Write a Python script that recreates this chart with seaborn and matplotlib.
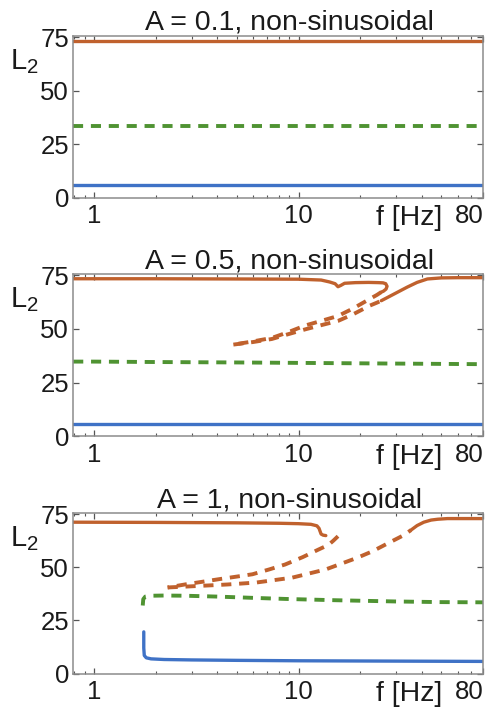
import matplotlib
matplotlib.use("Agg")
import matplotlib.pyplot as plt
import seaborn as sns
import pandas as pd
from matplotlib.ticker import FixedLocator, FixedFormatter, LogLocator, NullFormatter, NullLocator

# ---------------- data ----------------
titles = ["A = 0.1, non-sinusoidal", "A = 0.5, non-sinusoidal", "A = 1, non-sinusoidal"]
y_ticks = [0, 25, 50, 75]
y_tick_labels = ["0", "25", "50", "75"]
x_ticks = [1, 10, 80]
x_tick_labels = ["1", "10", "80"]

# Panel 1 (A = 0.1)
p1_blue_f = [0.79, 1, 2, 5, 10, 20, 50, 80]
p1_blue_L = [5.7, 5.7, 5.7, 5.7, 5.7, 5.7, 5.7, 5.7]
p1_green_f = [0.79, 1, 2, 5, 10, 20, 50, 80]
p1_green_L = [33.4, 33.4, 33.4, 33.4, 33.4, 33.4, 33.4, 33.4]
p1_orange_f = [0.79, 1, 2, 5, 10, 20, 50, 80]
p1_orange_L = [73.3, 73.3, 73.3, 73.3, 73.3, 73.3, 73.3, 73.3]

# Panel 2 (A = 0.5)
p2_blue_f = [0.79, 1, 2, 5, 10, 20, 50, 80]
p2_blue_L = [5.7, 5.7, 5.7, 5.7, 5.7, 5.7, 5.7, 5.7]
p2_green_f = [0.79, 1, 2, 5, 10, 20, 40, 80]
p2_green_L = [34.8, 34.8, 34.6, 34.4, 34.2, 34.0, 33.8, 33.6]
p2_orange_top_f = [0.79, 2, 5, 10, 12.9, 14.2, 15.1, 15.6, 16.1, 16.8, 19, 22, 24.5,
                   25.9, 26.7, 27.1, 26.8, 26.0, 25.4]
p2_orange_top_L = [73.3, 73.3, 73.2, 73.1, 72.7, 71.8, 71.0, 69.6, 70.2, 71.2, 71.5, 71.6, 71.5,
                   71.4, 71.0, 69.8, 68.5, 67.5, 67.1]
p2_orange_up_f = [25.4, 24.2, 22.3, 18.5, 15.6, 13.0, 10.8, 8.8, 7.4, 6.0, 4.8]
p2_orange_up_L = [67.1, 65.8, 63.9, 59.5, 56.0, 53.8, 51.6, 48.3, 45.8, 44.2, 42.7]
p2_orange_lo_f = [4.8, 6.0, 7.4, 8.8, 10.8, 13.0, 15.6, 18.5, 22.3, 24.2, 25.4]
p2_orange_lo_L = [42.7, 43.9, 45.3, 47.4, 49.8, 51.8, 53.7, 56.8, 60.8, 62.2, 63.1]
p2_orange_rise_f = [25.4, 28, 31, 34, 38, 42.7, 50, 60, 80]
p2_orange_rise_L = [63.1, 65.2, 67.4, 69.4, 71.6, 73.2, 73.7, 73.8, 73.8]

# Panel 3 (A = 1)
p3_blue_f = [1.75, 1.75, 1.76, 1.8, 1.9, 2.2, 3, 5, 10, 20, 40, 80]
p3_blue_L = [19.6, 12.0, 8.5, 7.4, 6.9, 6.6, 6.4, 6.2, 6.0, 5.9, 5.8, 5.7]
p3_green_f = [1.73, 1.74, 1.78, 1.9, 2.2, 2.8, 4, 6, 8.6, 15, 30, 50, 80]
p3_green_L = [32.0, 35.0, 36.2, 36.6, 36.7, 36.6, 36.2, 35.6, 35.1, 34.5, 33.9, 33.6, 33.5]
p3_orange_top_f = [0.79, 2, 5, 8, 10, 11.5, 12.3, 12.6, 12.75, 12.9, 13.2, 13.6]
p3_orange_top_L = [71.2, 71.1, 70.9, 70.7, 70.5, 70.2, 69.5, 68.3, 66.9, 65.6, 65.1, 64.9]
p3_orange_up_f = [15.6, 14.8, 14.0, 12.5, 10.5, 8.6, 7.2, 5.95, 4.9, 4.09, 3.4, 2.82, 2.29]
p3_orange_up_L = [64.6, 62.5, 60.5, 58.3, 54.8, 51.3, 49.0, 46.7, 45.5, 44.4, 43.2, 42.0, 40.5]
p3_orange_lo_f = [2.29, 2.8, 3.39, 4.5, 6.2, 9.3, 13.6, 19.3, 23, 27.4, 32.9, 35.5]
p3_orange_lo_L = [40.5, 40.9, 41.3, 41.9, 42.8, 45.1, 49.0, 54.4, 57.5, 61.3, 65.2, 67.5]
p3_orange_rise_f = [35.5, 38, 41, 44.5, 48, 53.5, 60, 80]
p3_orange_rise_L = [67.5, 69.6, 71.2, 72.2, 72.6, 72.9, 72.9, 72.9]

# ---------------- style ----------------
BLUE = "#3f72c6"
ORANGE = "#c0612d"
GREEN = "#4f9332"
SOLID = "-"
DASHED = (0, (2.6, 2.0))

panels = [
    [(p1_blue_f, p1_blue_L, BLUE, SOLID),
     (p1_green_f, p1_green_L, GREEN, DASHED),
     (p1_orange_f, p1_orange_L, ORANGE, SOLID)],
    [(p2_blue_f, p2_blue_L, BLUE, SOLID),
     (p2_green_f, p2_green_L, GREEN, DASHED),
     (p2_orange_top_f, p2_orange_top_L, ORANGE, SOLID),
     (p2_orange_up_f, p2_orange_up_L, ORANGE, DASHED),
     (p2_orange_lo_f, p2_orange_lo_L, ORANGE, DASHED),
     (p2_orange_rise_f, p2_orange_rise_L, ORANGE, SOLID)],
    [(p3_blue_f, p3_blue_L, BLUE, SOLID),
     (p3_green_f, p3_green_L, GREEN, DASHED),
     (p3_orange_top_f, p3_orange_top_L, ORANGE, SOLID),
     (p3_orange_up_f, p3_orange_up_L, ORANGE, DASHED),
     (p3_orange_lo_f, p3_orange_lo_L, ORANGE, DASHED),
     (p3_orange_rise_f, p3_orange_rise_L, ORANGE, SOLID)],
]

sns.set_style("ticks")
plt.rcParams["font.family"] = ["Liberation Sans", "DejaVu Sans"]
plt.rcParams["mathtext.fontset"] = "custom"
plt.rcParams["mathtext.rm"] = "Liberation Sans"
plt.rcParams["mathtext.it"] = "Liberation Sans:italic"

TXT = "#1a1a1a"
FRAME = "#8c8c8c"

fig = plt.figure(figsize=(4.91, 7.11), dpi=100)
rects = [[0.149, 0.7222, 0.835, 0.2272],
         [0.149, 0.3861, 0.835, 0.2285],
         [0.149, 0.0527, 0.835, 0.2257]]

for i, (rect, title, curves) in enumerate(zip(rects, titles, panels)):
    ax = fig.add_axes(rect)
    ax.set_xscale("log")
    for f, L, color, ls in curves:
        df = pd.DataFrame({"f": f, "L": L})
        lw = 2.4 if ls == SOLID else 2.8
        sns.lineplot(data=df, x="f", y="L", sort=False, estimator=None, color=color,
                     linestyle=ls, linewidth=lw, ax=ax, legend=False)
    ax.set_xlim(0.79, 80)
    ax.set_ylim(0, 75.5)
    ax.set_xlabel("")
    ax.set_ylabel("")

    ax.xaxis.set_major_locator(FixedLocator(x_ticks))
    ax.xaxis.set_major_formatter(FixedFormatter(x_tick_labels))
    ax.xaxis.set_minor_locator(LogLocator(base=10, subs=[2, 3, 4, 5, 6, 7, 8, 9]))
    ax.xaxis.set_minor_formatter(NullFormatter())
    ax.yaxis.set_major_locator(FixedLocator(y_ticks))
    ax.yaxis.set_major_formatter(FixedFormatter(y_tick_labels))
    ax.yaxis.set_minor_locator(NullLocator())

    ax.tick_params(which="both", direction="in", top=True, right=True, colors="#555555",
                   labelcolor=TXT)
    ax.tick_params(which="major", length=4.5, width=0.9, labelsize=18.5)
    ax.tick_params(which="minor", length=2.5, width=0.8)
    ax.tick_params(axis="x", which="major", pad=5)
    ax.tick_params(axis="y", which="major", pad=3)
    for lab in ax.get_xticklabels():
        if lab.get_text() == "80":
            lab.set_horizontalalignment("right")

    for sp in ax.spines.values():
        sp.set_color(FRAME)
        sp.set_linewidth(1.1)

    ax.set_title(title, fontsize=20.5, color=TXT, x=0.527, pad=2)
    ax.text(-0.155, 0.84, r"L$_\mathregular{2}$", transform=ax.transAxes, fontsize=21,
            color=TXT, ha="left", va="center")
    ax.text(0.82, -0.045, "f [Hz]", transform=ax.transAxes, fontsize=20.5,
            color=TXT, ha="center", va="top")

fig.savefig("out.png", dpi=100)
